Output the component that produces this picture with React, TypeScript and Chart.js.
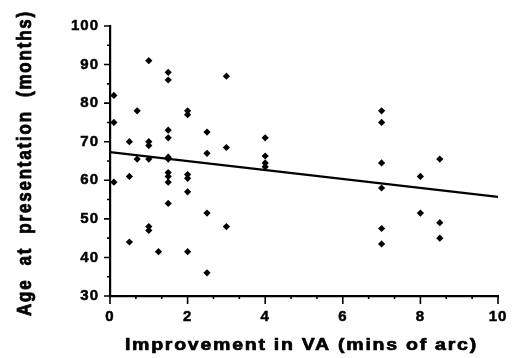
import { useEffect, useRef } from "react";
import { Chart, registerables } from "chart.js";

Chart.register(...registerables);

// Improvement in VA (mins of arc) for each patient
const improvement = [
  0.1, 0.1, 0.1,
  0.5, 0.5, 0.5,
  0.7, 0.7,
  1, 1, 1, 1, 1, 1,
  1.25,
  1.5, 1.5, 1.5, 1.5, 1.5, 1.5, 1.5, 1.5, 1.5, 1.5,
  2, 2, 2, 2, 2, 2,
  2.5, 2.5, 2.5, 2.5,
  3, 3, 3,
  4, 4, 4, 4,
  7, 7, 7, 7, 7, 7,
  8, 8,
  8.5, 8.5, 8.5,
];

// Age at presentation (months) for each patient
const age = [
  82, 75, 59.5,
  70, 61, 44,
  78, 65.5,
  91, 70, 69, 65.5, 48, 47,
  41.5,
  88, 86, 73, 71, 66, 65.5, 62, 61, 59.5, 54,
  78, 77, 61.5, 60.5, 57, 41.5,
  72.5, 67, 51.5, 36,
  87, 68.5, 48,
  71, 66.3, 64.5, 63.5,
  78, 75, 64.5, 58, 47.5, 43.5,
  61, 51.5,
  65.5, 49, 45,
];

// Regression line end points
const fitX = [0, 10];
const fitY = [67.3, 55.7];

// Tick marks
const yMajor = [30, 40, 50, 60, 70, 80, 90, 100];
const yMinor = [35, 45, 55, 65, 75, 85, 95];
const xMajor = [0, 2, 4, 6, 8, 10];
const xMinor = [2 / 3, 4 / 3, 8 / 3, 10 / 3, 14 / 3, 16 / 3, 20 / 3, 22 / 3, 26 / 3, 28 / 3];

const xTitle = "Improvement in VA (mins of arc)";
const yTitle = "Age  at  presentation  (months)";

const FONT = '"Liberation Sans", Arial, Helvetica, sans-serif';

export default function App() {
  const ref = useRef<HTMLCanvasElement>(null);

  useEffect(() => {
    const canvas = ref.current;
    if (!canvas) return;

    const decorPlugin = {
      id: "decor",
      beforeDraw(chart: any) {
        chart.ctx.letterSpacing = "1px";
      },
      afterDraw(chart: any) {
        const ctx = chart.ctx as CanvasRenderingContext2D;
        const xs = chart.scales.x;
        const ys = chart.scales.y;
        const { left, bottom } = chart.chartArea;
        ctx.save();
        ctx.letterSpacing = "0px";
        ctx.strokeStyle = "#000";
        ctx.lineWidth = 1.6;
        ctx.beginPath();
        yMajor.forEach((v) => {
          const p = ys.getPixelForValue(v);
          ctx.moveTo(left - 6, p);
          ctx.lineTo(left, p);
        });
        yMinor.forEach((v) => {
          const p = ys.getPixelForValue(v);
          ctx.moveTo(left - 3, p);
          ctx.lineTo(left, p);
        });
        xMajor.forEach((v) => {
          const p = xs.getPixelForValue(v);
          ctx.moveTo(p, bottom);
          ctx.lineTo(p, bottom + 8);
        });
        xMinor.forEach((v) => {
          const p = xs.getPixelForValue(v);
          ctx.moveTo(p, bottom);
          ctx.lineTo(p, bottom + 3);
        });
        ctx.stroke();

        ctx.fillStyle = "#000";
        ctx.strokeStyle = "#000";
        ctx.lineWidth = 0.7;
        ctx.lineJoin = "round";
        ctx.font = `bold 17px ${FONT}`;
        ctx.textAlign = "center";
        ctx.textBaseline = "alphabetic";

        ctx.save();
        ctx.letterSpacing = "1.5px";
        ctx.translate(301.4, 350);
        ctx.scale(1.15, 1);
        ctx.fillText(xTitle, 0, 0);
        ctx.strokeText(xTitle, 0, 0);
        ctx.restore();

        ctx.save();
        ctx.letterSpacing = "1.8px";
        ctx.translate(31, 163);
        ctx.rotate(-Math.PI / 2);
        ctx.scale(1, 1.15);
        ctx.fillText(yTitle, 0, 0);
        ctx.strokeText(yTitle, 0, 0);
        ctx.restore();

        ctx.restore();
      },
    };

    const tickFont = { family: FONT, size: 15, weight: "bold" as const };

    const chart = new Chart(canvas, {
      type: "scatter",
      data: {
        datasets: [
          {
            type: "scatter",
            data: improvement.map((x, i) => ({ x, y: age[i] })),
            pointStyle: "rectRot",
            pointRadius: 3.6,
            backgroundColor: "#000",
            borderColor: "#000",
            borderWidth: 0,
          },
          {
            type: "line",
            data: fitX.map((x, i) => ({ x, y: fitY[i] })),
            borderColor: "#000",
            borderWidth: 2.2,
            pointRadius: 0,
            fill: false,
          } as any,
        ],
      },
      options: {
        responsive: false,
        animation: false,
        devicePixelRatio: 1,
        layout: { padding: { top: 26, right: 21, left: 0, bottom: 0 } },
        plugins: { legend: { display: false }, tooltip: { enabled: false } },
        scales: {
          x: {
            type: "linear",
            min: 0,
            max: 10,
            ticks: {
              stepSize: 2,
              padding: 12,
              color: "#000",
              font: tickFont,
              textStrokeColor: "#000",
              textStrokeWidth: 0.5,
            },
            grid: { display: false, drawTicks: false },
            border: { display: true, color: "#000", width: 2.2 },
            afterFit(s: any) {
              s.height = 62;
            },
          },
          y: {
            type: "linear",
            min: 30,
            max: 100,
            ticks: {
              stepSize: 10,
              padding: 11,
              color: "#000",
              font: tickFont,
              textStrokeColor: "#000",
              textStrokeWidth: 0.5,
            },
            grid: { display: false, drawTicks: false },
            border: { display: true, color: "#000", width: 2.2 },
            afterFit(s: any) {
              s.width = 110;
            },
          },
        },
      },
      plugins: [decorPlugin],
    });

    return () => chart.destroy();
  }, []);

  return (
    <div style={{ position: "fixed", left: 0, top: 0, width: 519, height: 358, background: "#fff" }}>
      <canvas ref={ref} width={519} height={358} />
    </div>
  );
}
